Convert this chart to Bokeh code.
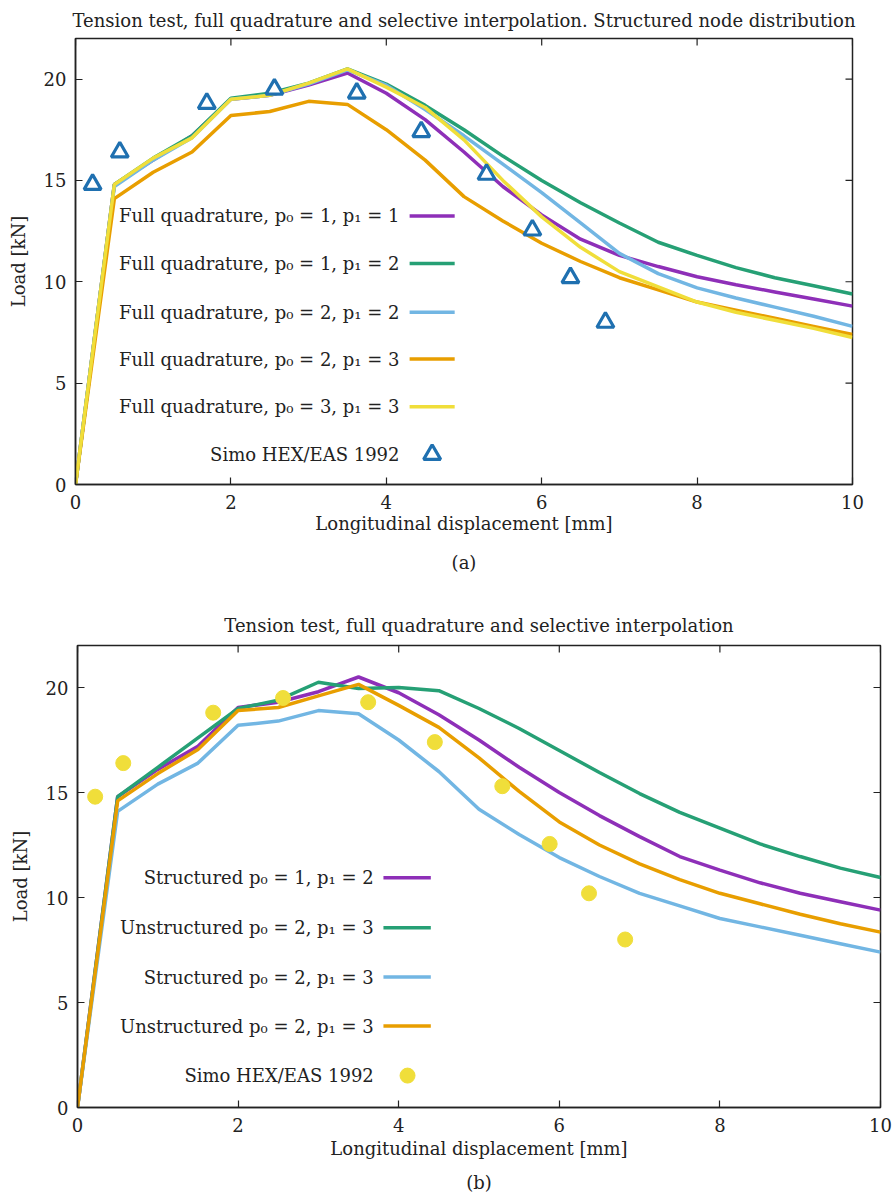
import math
from bokeh.plotting import figure
from bokeh.models import FixedTicker, Label, Range1d, Title
from bokeh.embed import file_html
from bokeh.resources import INLINE

# ---------------- data ----------------
disp = [0, 0.5, 1, 1.5, 2, 2.5, 3, 3.5, 4, 4.5, 5, 5.5, 6, 6.5, 7, 7.5, 8, 8.5, 9, 9.5, 10]

full_p11 = [0, 14.8, 16.0, 17.2, 19.0, 19.2, 19.7, 20.3, 19.3, 18.0, 16.4, 14.7, 13.3, 12.1, 11.3, 10.75, 10.25, 9.85, 9.5, 9.15, 8.8]
full_p12 = [0, 14.8, 16.1, 17.2, 19.05, 19.3, 19.8, 20.5, 19.75, 18.7, 17.5, 16.2, 15.0, 13.9, 12.9, 11.95, 11.3, 10.7, 10.2, 9.8, 9.4]
full_p22 = [0, 14.7, 16.0, 17.1, 19.0, 19.2, 19.75, 20.45, 19.7, 18.5, 17.2, 15.8, 14.4, 12.9, 11.4, 10.4, 9.7, 9.2, 8.75, 8.3, 7.8]
full_p23 = [0, 14.1, 15.4, 16.4, 18.2, 18.4, 18.9, 18.75, 17.5, 16.0, 14.2, 13.0, 11.9, 11.0, 10.2, 9.6, 9.0, 8.6, 8.2, 7.8, 7.4]
full_p33 = [0, 14.8, 16.1, 17.1, 19.0, 19.2, 19.8, 20.5, 19.6, 18.6, 17.0, 15.0, 13.2, 11.7, 10.5, 9.75, 9.0, 8.5, 8.1, 7.7, 7.25]

# structured results re-used in panel (b)
struct_p12 = full_p12
struct_p23 = full_p23
unstruct_p23_a = [0, 14.8, 16.2, 17.6, 19.0, 19.4, 20.25, 19.95, 20.0, 19.85, 19.0, 18.05, 17.0, 15.95, 14.95, 14.05, 13.3, 12.55, 11.95, 11.4, 10.95]
unstruct_p23_b = [0, 14.6, 15.9, 17.05, 18.9, 19.05, 19.6, 20.15, 19.15, 18.1, 16.65, 15.05, 13.6, 12.5, 11.6, 10.85, 10.2, 9.7, 9.2, 8.75, 8.35]

simo_x = [0.22, 0.57, 1.69, 2.56, 3.62, 4.45, 5.29, 5.88, 6.37, 6.82]
simo_y = [14.8, 16.4, 18.8, 19.5, 19.3, 17.4, 15.3, 12.55, 10.2, 8.0]

x_ticks = [0, 2, 4, 6, 8, 10]
y_ticks = [0, 5, 10, 15, 20]

title_a = "Tension test, full quadrature and selective interpolation. Structured node distribution"
title_b = "Tension test, full quadrature and selective interpolation"
labels_a = ["Full quadrature, p\u2080 = 1, p\u2081 = 1",
            "Full quadrature, p\u2080 = 1, p\u2081 = 2",
            "Full quadrature, p\u2080 = 2, p\u2081 = 2",
            "Full quadrature, p\u2080 = 2, p\u2081 = 3",
            "Full quadrature, p\u2080 = 3, p\u2081 = 3"]
labels_b = ["Structured p\u2080 = 1, p\u2081 = 2",
            "Unstructured p\u2080 = 2, p\u2081 = 3",
            "Structured p\u2080 = 2, p\u2081 = 3",
            "Unstructured p\u2080 = 2, p\u2081 = 3"]
simo_label = "Simo HEX/EAS 1992"

# ---------------- style ----------------
FONT = "DejaVu Serif"
FS = "18px"
INK = "#222222"
PURPLE = "#8e2fb8"
GREEN = "#26a075"
LBLUE = "#72b6e3"
ORANGE = "#e89e00"
YELLOW = "#f0de3a"
TRI = "#1f70b0"
LW = 3.5
X0, X1, Y0, Y1 = 0, 10, 0, 22

# legend layout (data units)
leg_a = dict(text_x=4.17, l0=4.30, l1=4.88, mk=4.59, ys=[13.25, 10.9, 8.5, 6.19, 3.84, 1.48])
leg_b = dict(text_x=3.69, l0=3.81, l1=4.40, mk=4.11, ys=[10.94, 8.56, 6.21, 3.88, 1.52])


def style(p, xlabel, ylabel, xlabel_standoff):
    p.outline_line_color = INK
    p.outline_line_width = 1.5
    p.xgrid.visible = False
    p.ygrid.visible = False
    p.xaxis.ticker = FixedTicker(ticks=x_ticks)
    p.yaxis.ticker = FixedTicker(ticks=y_ticks)
    for ax in list(p.xaxis) + list(p.yaxis):
        ax.major_tick_in = 7
        ax.major_tick_out = 0
        ax.minor_tick_line_color = None
        ax.axis_line_color = INK
        ax.axis_line_width = 1.5
        ax.major_tick_line_color = INK
        ax.major_tick_line_width = 1.2
        ax.major_label_text_font = FONT
        ax.major_label_text_font_size = FS
        ax.major_label_text_color = INK
        ax.axis_label_text_font = FONT
        ax.axis_label_text_font_size = FS
        ax.axis_label_text_font_style = "normal"
        ax.axis_label_text_color = INK
    p.xaxis.axis_label = xlabel
    p.yaxis.axis_label = ylabel
    p.xaxis.major_label_standoff = 10
    p.yaxis.major_label_standoff = 9
    p.xaxis.axis_label_standoff = xlabel_standoff
    p.yaxis.axis_label_standoff = 12
    # mirrored inward ticks on the top and right frame edges (half clipped by the frame)
    p.scatter(x_ticks, [Y1] * len(x_ticks), marker="dash", angle=math.pi / 2, size=14,
              line_color=INK, line_width=1.2)
    p.scatter([X1] * len(y_ticks), y_ticks, marker="dash", size=14,
              line_color=INK, line_width=1.2)


def set_title(p, text, standoff):
    p.title.text = text
    p.title.text_font = FONT
    p.title.text_font_size = FS
    p.title.text_font_style = "normal"
    p.title.text_color = INK
    p.title.align = "center"
    p.title.standoff = standoff


def caption(p, text, standoff):
    p.add_layout(Title(text=text, align="center", text_font=FONT, text_font_size=FS,
                       text_font_style="normal", text_color=INK, standoff=standoff), "below")


def legend_row(p, leg, i, text, color=None):
    y = leg["ys"][i]
    p.add_layout(Label(x=leg["text_x"], y=y, text=text, text_align="right",
                       text_baseline="middle", text_font=FONT, text_font_size=FS,
                       text_color=INK))
    if color is not None:
        p.segment(x0=[leg["l0"]], y0=[y], x1=[leg["l1"]], y1=[y], line_color=color, line_width=LW)


# ---------------- panel (a) ----------------
p1 = figure(width=882, height=596, x_range=Range1d(X0, X1), y_range=Range1d(Y0, Y1),
            output_backend="svg", toolbar_location=None,
            min_border_left=75, min_border_right=30, min_border_top=38, min_border_bottom=112)
set_title(p1, title_a, 15)
style(p1, "Longitudinal displacement [mm]", "Load [kN]", 1)

series_a = [full_p11, full_p12, full_p22, full_p23, full_p33]
colors_a = [PURPLE, GREEN, LBLUE, ORANGE, YELLOW]
for ys, c in zip(series_a, colors_a):
    p1.line(disp, ys, line_color=c, line_width=LW)
p1.scatter(simo_x, simo_y, marker="triangle", size=17, fill_color="white",
           line_color=TRI, line_width=3.2)

for i, (t, c) in enumerate(zip(labels_a, colors_a)):
    legend_row(p1, leg_a, i, t, c)
legend_row(p1, leg_a, 5, simo_label)
p1.scatter([leg_a["mk"]], [leg_a["ys"][5]], marker="triangle", size=17, fill_color="white",
           line_color=TRI, line_width=3.2)
caption(p1, "(a)", 26)

# ---------------- panel (b) ----------------
p2 = figure(width=892, height=605, x_range=Range1d(X0, X1), y_range=Range1d(Y0, Y1),
            output_backend="svg", toolbar_location=None,
            min_border_left=77, min_border_right=12, min_border_top=49, min_border_bottom=94)
set_title(p2, title_b, 20)
style(p2, "Longitudinal displacement [mm]", "Load [kN]", 3)

series_b = [struct_p12, unstruct_p23_a, struct_p23, unstruct_p23_b]
colors_b = [PURPLE, GREEN, LBLUE, ORANGE]
for ys, c in zip(series_b, colors_b):
    p2.line(disp, ys, line_color=c, line_width=LW)
p2.scatter(simo_x, simo_y, marker="circle", size=15, fill_color=YELLOW, line_color=YELLOW)

for i, (t, c) in enumerate(zip(labels_b, colors_b)):
    legend_row(p2, leg_b, i, t, c)
legend_row(p2, leg_b, 4, simo_label)
p2.scatter([leg_b["mk"]], [leg_b["ys"][4]], marker="circle", size=15, fill_color=YELLOW,
           line_color=YELLOW)
caption(p2, "(b)", 16)

open("out.html", "w").write(file_html([p1, p2], INLINE))
